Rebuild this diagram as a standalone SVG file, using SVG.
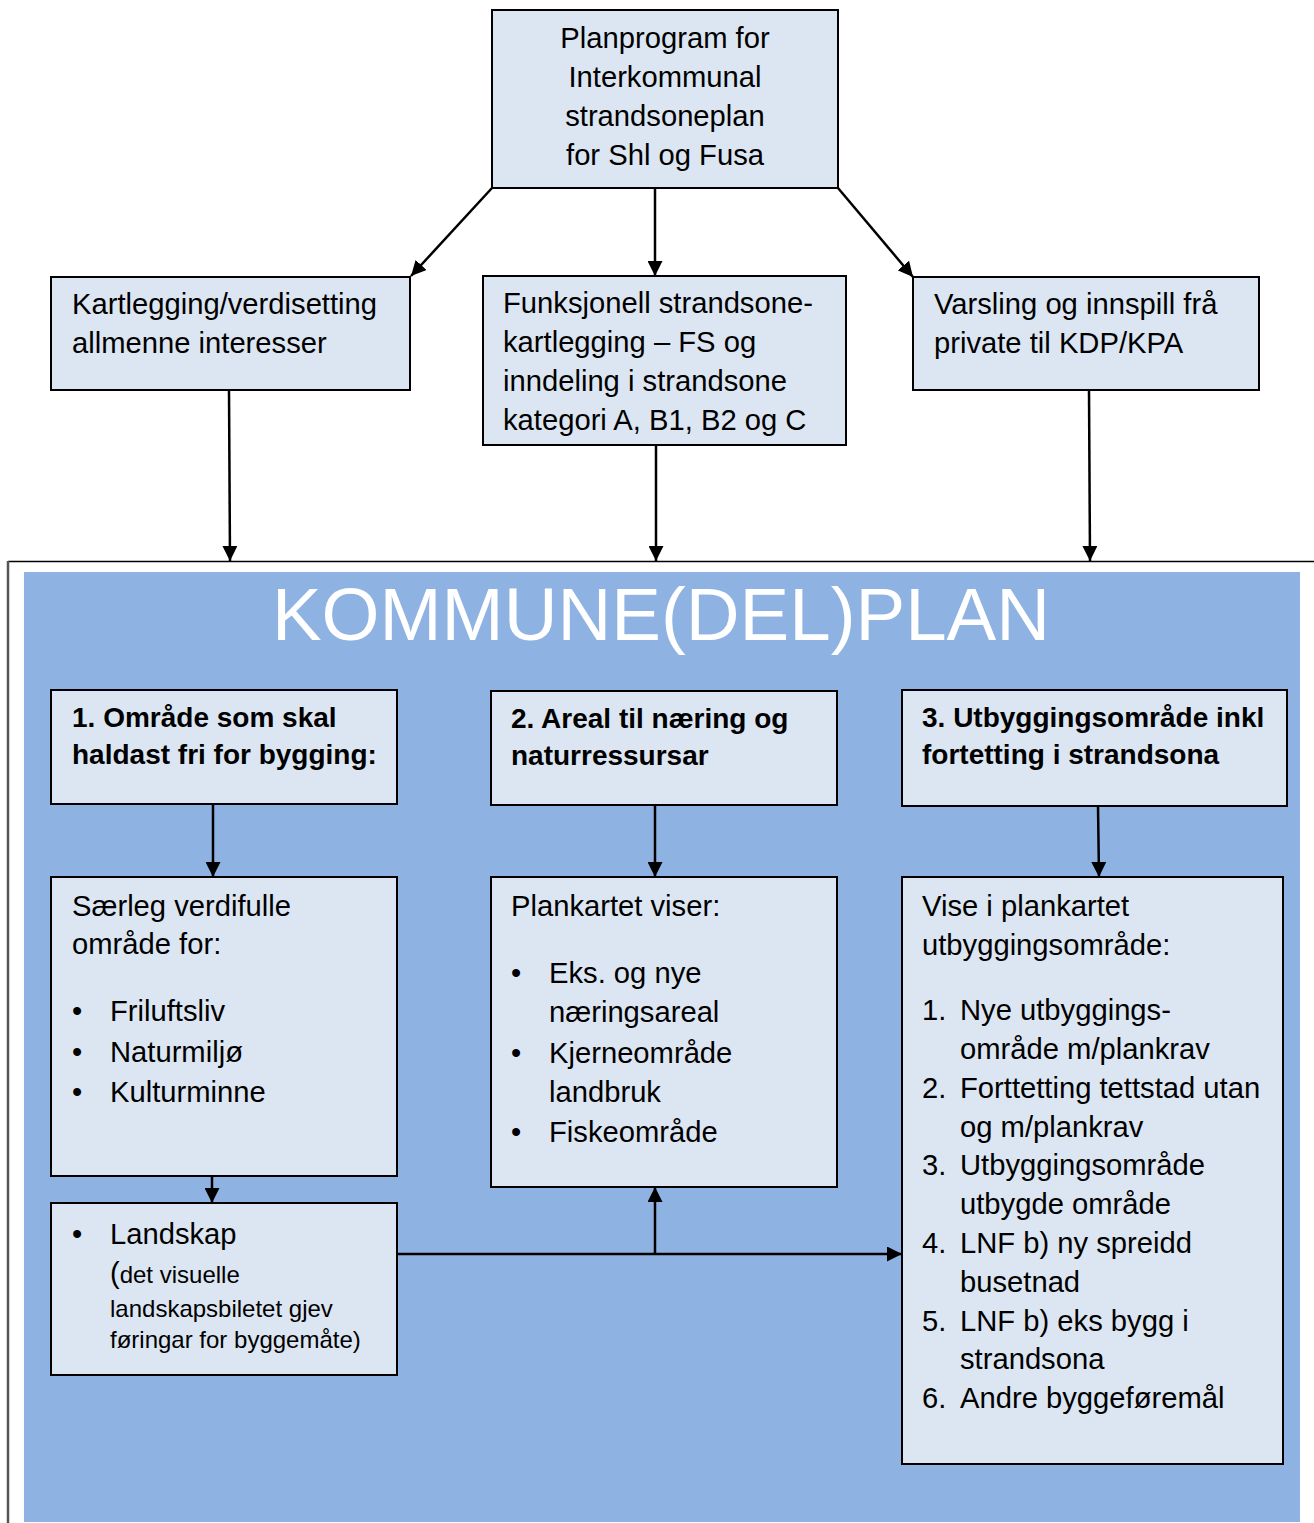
<svg xmlns="http://www.w3.org/2000/svg" width="1314" height="1523" viewBox="0 0 1314 1523">
<defs>
<marker id="ah" viewBox="0 0 10 10" refX="10" refY="5" markerWidth="15" markerHeight="15" markerUnits="userSpaceOnUse" orient="auto">
<path d="M0,0 L10,5 L0,10 z" fill="#000"/>
</marker>
<style>
.box{fill:#DCE6F2;stroke:#000;stroke-width:2}
.t{font-family:"Liberation Sans",Arial,sans-serif;font-size:29.2px;fill:#000}
.b{font-family:"Liberation Sans",Arial,sans-serif;font-size:28px;font-weight:bold;fill:#000}
.s{font-family:"Liberation Sans",Arial,sans-serif;font-size:24px;fill:#000}
.c{stroke:#000;stroke-width:2.5;fill:none;marker-end:url(#ah)}
</style>
</defs>
<rect width="1314" height="1523" fill="#fff"/>
<g id="frame">
<line x1="8" y1="561.5" x2="1314" y2="561.5" stroke="#000" stroke-width="1.5"/>
<line x1="8" y1="561" x2="8" y2="1523" stroke="#555" stroke-width="2.5"/>
<rect x="24" y="572" width="1276" height="950" fill="#8EB3E2"/>
<text x="661" y="640" text-anchor="middle" font-family="Liberation Sans,Arial,sans-serif" font-size="74.5" fill="#fff">KOMMUNE(DEL)PLAN</text>
</g>
<g id="n-top">
<rect class="box" x="492" y="10" width="346" height="178"/>
<text class="t" text-anchor="middle"><tspan x="665" y="48">Planprogram for</tspan><tspan x="665" y="87">Interkommunal</tspan><tspan x="665" y="126">strandsoneplan</tspan><tspan x="665" y="165">for Shl og Fusa</tspan></text>
</g>
<g id="n-kart">
<rect class="box" x="51" y="277" width="359" height="113"/>
<text class="t"><tspan x="72" y="314">Kartlegging/verdisetting</tspan><tspan x="72" y="353">allmenne interesser</tspan></text>
</g>
<g id="n-fs">
<rect class="box" x="483" y="276" width="363" height="169"/>
<text class="t"><tspan x="503" y="313">Funksjonell strandsone-</tspan><tspan x="503" y="352">kartlegging – FS og</tspan><tspan x="503" y="391">inndeling i strandsone</tspan><tspan x="503" y="430">kategori A, B1, B2 og C</tspan></text>
</g>
<g id="n-varsling">
<rect class="box" x="913" y="277" width="346" height="113"/>
<text class="t"><tspan x="934" y="314">Varsling og innspill frå</tspan><tspan x="934" y="353">private til KDP/KPA</tspan></text>
</g>
<g id="n-1">
<rect class="box" x="51" y="690" width="346" height="114"/>
<text class="b"><tspan x="72" y="727">1. Område som skal</tspan><tspan x="72" y="764">haldast fri for bygging:</tspan></text>
</g>
<g id="n-2">
<rect class="box" x="491" y="691" width="346" height="114"/>
<text class="b"><tspan x="511" y="728">2. Areal til næring og</tspan><tspan x="511" y="765">naturressursar</tspan></text>
</g>
<g id="n-3">
<rect class="box" x="902" y="690" width="385" height="116"/>
<text class="b"><tspan x="922" y="727">3. Utbyggingsområde inkl</tspan><tspan x="922" y="764">fortetting i strandsona</tspan></text>
</g>
<g id="n-1b">
<rect class="box" x="51" y="877" width="346" height="299"/>
<text class="t"><tspan x="72" y="916">Særleg verdifulle</tspan><tspan x="72" y="954">område for:</tspan></text>
<text class="t"><tspan x="72" y="1021">•</tspan><tspan x="110" y="1021">Friluftsliv</tspan><tspan x="72" y="1062">•</tspan><tspan x="110" y="1062">Naturmiljø</tspan><tspan x="72" y="1102">•</tspan><tspan x="110" y="1102">Kulturminne</tspan></text>
</g>
<g id="n-2b">
<rect class="box" x="491" y="877" width="346" height="310"/>
<text class="t"><tspan x="511" y="916">Plankartet viser:</tspan></text>
<text class="t"><tspan x="511" y="983">•</tspan><tspan x="549" y="983">Eks. og nye</tspan><tspan x="549" y="1022">næringsareal</tspan><tspan x="511" y="1063">•</tspan><tspan x="549" y="1063">Kjerneområde</tspan><tspan x="549" y="1102">landbruk</tspan><tspan x="511" y="1142">•</tspan><tspan x="549" y="1142">Fiskeområde</tspan></text>
</g>
<g id="n-3b">
<rect class="box" x="902" y="877" width="381" height="587"/>
<text class="t"><tspan x="922" y="916">Vise i plankartet</tspan><tspan x="922" y="955">utbyggingsområde:</tspan></text>
<text class="t"><tspan x="922" y="1020">1.</tspan><tspan x="960" y="1020">Nye utbyggings-</tspan><tspan x="960" y="1059">område m/plankrav</tspan><tspan x="922" y="1098">2.</tspan><tspan x="960" y="1098">Forttetting tettstad utan</tspan><tspan x="960" y="1137">og m/plankrav</tspan><tspan x="922" y="1175">3.</tspan><tspan x="960" y="1175">Utbyggingsområde</tspan><tspan x="960" y="1214">utbygde område</tspan><tspan x="922" y="1253">4.</tspan><tspan x="960" y="1253">LNF b) ny spreidd</tspan><tspan x="960" y="1292">busetnad</tspan><tspan x="922" y="1331">5.</tspan><tspan x="960" y="1331">LNF b) eks bygg i</tspan><tspan x="960" y="1369">strandsona</tspan><tspan x="922" y="1408">6.</tspan><tspan x="960" y="1408">Andre byggeføremål</tspan></text>
</g>
<g id="n-landskap">
<rect class="box" x="51" y="1203" width="346" height="172"/>
<text class="t"><tspan x="72" y="1244">•</tspan><tspan x="110" y="1244">Landskap</tspan></text>
<text class="s"><tspan x="110" y="1283"><tspan font-size="29">(</tspan>det visuelle</tspan><tspan x="110" y="1317">landskapsbiletet gjev</tspan><tspan x="110" y="1348">føringar for byggemåte)</tspan></text>
</g>
<g id="connectors">
<line class="c" x1="492" y1="188" x2="411" y2="276"/>
<line class="c" x1="655" y1="188" x2="655" y2="276"/>
<line class="c" x1="838" y1="188" x2="913" y2="277"/>
<line class="c" x1="229" y1="390" x2="230" y2="561"/>
<line class="c" x1="656" y1="445" x2="656" y2="561"/>
<line class="c" x1="1089" y1="390" x2="1090" y2="561"/>
<line class="c" x1="213" y1="804" x2="213" y2="877"/>
<line class="c" x1="655" y1="805" x2="655" y2="877"/>
<line class="c" x1="1098" y1="806" x2="1099" y2="877"/>
<line class="c" x1="212" y1="1176" x2="212" y2="1203"/>
<line class="c" x1="397" y1="1254" x2="902" y2="1254"/>
<line class="c" x1="655" y1="1254" x2="655" y2="1187"/>
</g>
</svg>
